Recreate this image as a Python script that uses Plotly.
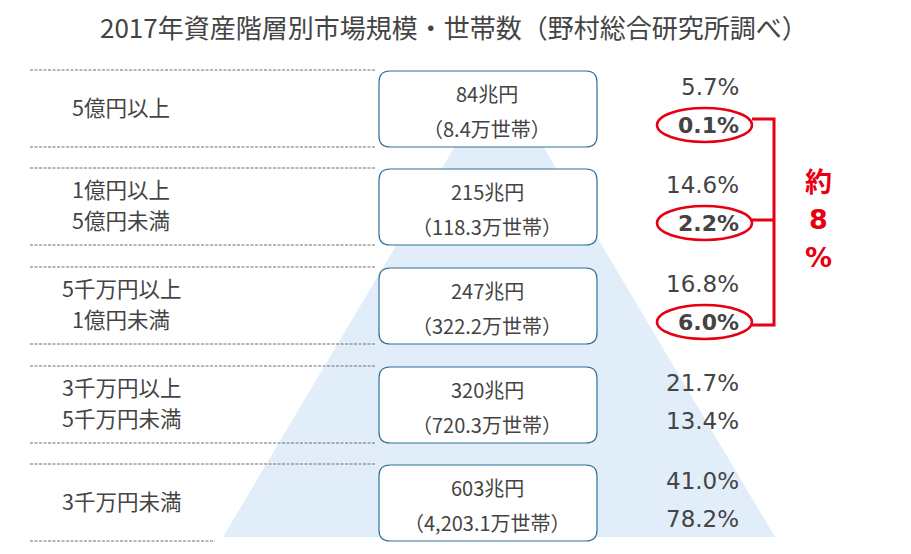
import plotly.graph_objects as go

# ---- data ----
tiers_line1 = ["5億円以上", "1億円以上", "5千万円以上", "3千万円以上", "3千万円未満"]
tiers_line2 = ["", "5億円未満", "1億円未満", "5千万円未満", ""]
market_size = [84, 215, 247, 320, 603]            # 兆円
households = [8.4, 118.3, 322.2, 720.3, 4203.1]   # 万世帯
market_share = [5.7, 14.6, 16.8, 21.7, 41.0]      # %
household_share = [0.1, 2.2, 6.0, 13.4, 78.2]     # %
highlight = [True, True, True, False, False]
title = "2017年資産階層別市場規模・世帯数（野村総合研究所調べ）"
summary = ["約", "8", "%"]

W, H = 911, 554
OFF = 8  # page body margin
TXT = "#444444"
RED = "#e60012"
CJK = "Noto Sans CJK JP"
PCT_FONT = "DejaVu Sans"

fig = go.Figure()
fig.add_trace(go.Scatter(x=[OFF, W], y=[OFF, H], mode="markers", marker=dict(opacity=0),
                         hoverinfo="skip", showlegend=False))

shapes = []
ann = []

# pyramid background
shapes.append(dict(type="path", path="M 499 72 L 775 537 L 223 537 Z",
                   fillcolor="#e1eef9", line=dict(width=0), layer="below"))

row_top = [71, 169, 268, 367, 465]
row_h = 76


def rrect(x0, y0, x1, y1, r):
    return (f"M {x0+r} {y0} L {x1-r} {y0} Q {x1} {y0} {x1} {y0+r} "
            f"L {x1} {y1-r} Q {x1} {y1} {x1-r} {y1} L {x0+r} {y1} "
            f"Q {x0} {y1} {x0} {y1-r} L {x0} {y0+r} Q {x0} {y0} {x0+r} {y0} Z")


def fmt_num(v):
    return f"{v:,.1f}"


DASH = dict(color="#6e6e6e", width=1, dash="3px,1.5px")
LBL = 21.5

for i in range(5):
    t = row_top[i]
    b = t + row_h
    # dashed separators
    shapes.append(dict(type="line", x0=30, x1=376, y0=t - 1, y1=t - 1, line=DASH))
    x_end = 376 if i < 4 else 215
    shapes.append(dict(type="line", x0=30, x1=x_end, y0=b, y1=b, line=DASH))
    # box
    shapes.append(dict(type="path", path=rrect(379, t, 597, b, 11),
                       fillcolor="white", line=dict(color="#2f6f96", width=1.2)))
    cx = 487
    ann.append(dict(x=cx, y=t + 22, text=f"{market_size[i]}兆円", showarrow=False,
                    font=dict(family=CJK, size=20, color=TXT)))
    ann.append(dict(x=cx, y=t + 57, text=f"（{fmt_num(households[i])}万世帯）", showarrow=False,
                    font=dict(family=CJK, size=20, color=TXT)))
    # tier label
    mid = t + row_h / 2 - 3
    if tiers_line2[i]:
        ann.append(dict(x=121, y=mid - 15.75, text=tiers_line1[i], showarrow=False,
                        font=dict(family=CJK, size=LBL, color=TXT)))
        ann.append(dict(x=121, y=mid + 15.75, text=tiers_line2[i], showarrow=False,
                        font=dict(family=CJK, size=LBL, color=TXT)))
    else:
        ann.append(dict(x=121, y=mid, text=tiers_line1[i], showarrow=False,
                        font=dict(family=CJK, size=LBL, color=TXT)))
    # percentages
    ann.append(dict(x=741, y=t + 16, text=f"{market_share[i]:.1f}%", showarrow=False,
                    xanchor="right", font=dict(family=PCT_FONT, size=23, color=TXT)))
    if highlight[i]:
        ann.append(dict(x=741, y=t + 54, text=f"<b>{household_share[i]:.1f}%</b>", showarrow=False,
                        xanchor="right", font=dict(family=PCT_FONT, size=22, color=TXT)))
        shapes.append(dict(type="circle", x0=657, x1=752, y0=t + 37, y1=t + 71,
                           line=dict(color=RED, width=2.5), fillcolor="rgba(0,0,0,0)"))
    else:
        ann.append(dict(x=741, y=t + 54, text=f"{household_share[i]:.1f}%", showarrow=False,
                        xanchor="right", font=dict(family=PCT_FONT, size=23, color=TXT)))

# bracket
shapes.append(dict(type="path", path="M 752 119 L 774 119 L 774 325 L 752 325",
                   line=dict(color=RED, width=3)))
shapes.append(dict(type="line", x0=752, x1=774, y0=220, y1=220, line=dict(color=RED, width=3)))
for k, (s, yy) in enumerate(zip(summary, [180, 219, 257])):
    ann.append(dict(x=818, y=yy, text=f"<b>{s}</b>", showarrow=False,
                    font=dict(family=CJK if k == 0 else PCT_FONT, size=27, color=RED)))

# title
ann.append(dict(x=454, y=26, text=title, showarrow=False,
                font=dict(family=CJK, size=26, color=TXT)))

for a in ann:
    a.setdefault("xref", "x")
    a.setdefault("yref", "y")
for s in shapes:
    s.setdefault("xref", "x")
    s.setdefault("yref", "y")

fig.update_layout(
    width=W - OFF, height=H - OFF, margin=dict(l=0, r=0, t=0, b=0),
    paper_bgcolor="white", plot_bgcolor="white",
    xaxis=dict(range=[OFF, W], visible=False, fixedrange=True),
    yaxis=dict(range=[H, OFF], visible=False, fixedrange=True),
    shapes=shapes, annotations=ann, showlegend=False,
)
fig.write_html("out.html")
